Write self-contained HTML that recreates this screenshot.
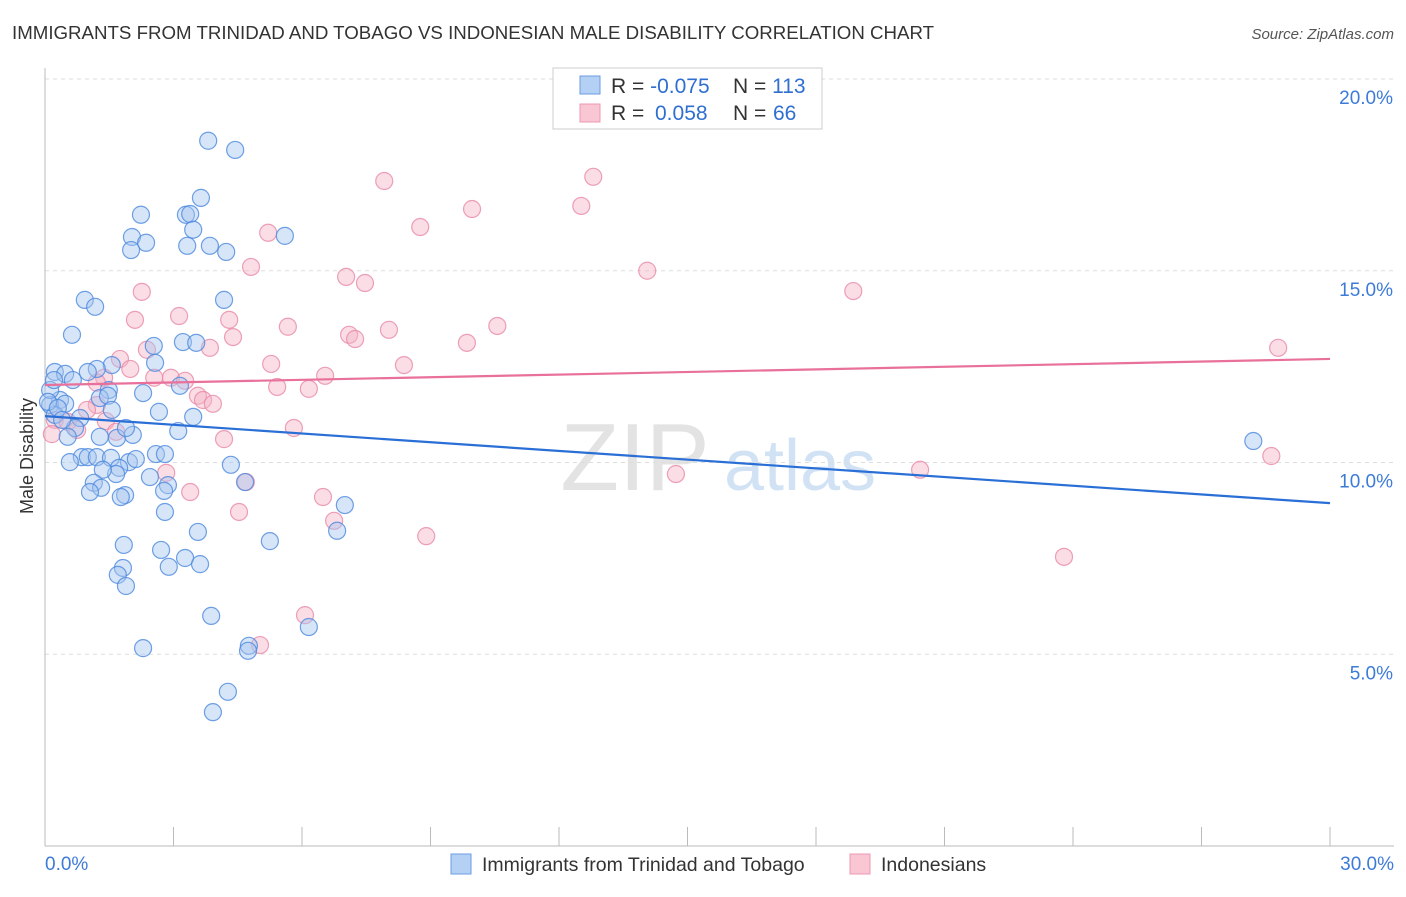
<!DOCTYPE html>
<html><head><meta charset="utf-8"><style>
body{margin:0;background:#fff;font-family:"Liberation Sans",sans-serif}
svg text{font-family:"Liberation Sans",sans-serif}
</style></head><body>
<svg id="chart" width="1406" height="892" xmlns="http://www.w3.org/2000/svg">
<text x="12" y="39" font-size="18.7" fill="#333">IMMIGRANTS FROM TRINIDAD AND TOBAGO VS INDONESIAN MALE DISABILITY CORRELATION CHART</text>
<text x="1394" y="39" font-size="15" fill="#555" font-style="italic" text-anchor="end">Source: ZipAtlas.com</text>
<text x="33" y="456" font-size="18" fill="#333" text-anchor="middle" transform="rotate(-90 33 456)">Male Disability</text>
<g><text x="635" y="490" font-size="96" fill="#ddd" font-family="Liberation Serif" text-anchor="middle" opacity="0.8">ZIP</text><text x="800" y="490" font-size="72" fill="#c8dcf3" text-anchor="middle" opacity="0.8">atlas</text></g>
<g id="grid"></g><g id="axes"></g><g id="pts"></g><g id="trends"></g>
<g>
<rect x="553" y="68" width="269" height="61" fill="#fff" stroke="#ccc"/>
<rect x="580" y="76" width="20" height="18" fill="#b5d0f5" stroke="#6a9be0"/>
<rect x="580" y="104" width="20" height="18" fill="#f9c6d4" stroke="#eb98b2"/>
<text x="611" y="93" font-size="21" fill="#333">R = <tspan fill="#2f6fd1">-0.075</tspan><tspan x="733">N = </tspan><tspan fill="#2f6fd1">113</tspan></text>
<text x="611" y="120" font-size="21" fill="#333">R = <tspan fill="#2f6fd1" x="655">0.058</tspan><tspan x="733">N = </tspan><tspan fill="#2f6fd1" x="773">66</tspan></text>
</g>
<g>
<rect x="451" y="854" width="20" height="20" fill="#b5d0f5" stroke="#6a9be0"/>
<text x="482" y="871" font-size="19.5" fill="#333">Immigrants from Trinidad and Tobago</text>
<rect x="850" y="854" width="20" height="20" fill="#f9c6d4" stroke="#eb98b2"/>
<text x="881" y="871" font-size="19.5" fill="#333">Indonesians</text>
</g>
</svg>
<script>
const blueX=[3.81,4.44,3.64,2.24,3.29,3.39,3.46,5.60,2.03,2.36,2.01,3.32,3.85,4.23,0.93,1.17,4.18,0.63,2.54,3.22,3.53,1.56,1.21,1.00,0.23,0.47,0.65,2.57,3.15,2.29,1.49,0.35,0.12,0.47,1.28,1.47,1.56,2.66,3.46,0.82,0.23,0.70,0.53,1.28,1.68,2.05,1.89,3.11,0.86,1.00,1.21,0.58,1.54,2.59,2.80,1.96,2.12,1.73,1.66,1.35,4.34,2.45,2.87,1.14,1.31,1.05,1.87,1.77,2.78,4.67,7.00,2.80,3.57,6.82,5.25,1.84,2.71,3.27,3.62,2.89,1.82,1.70,1.89,3.88,6.16,4.76,4.74,2.29,4.27,3.92,28.21,0.12,0.07,0.30,0.21,0.40];
const blueY=[18.39,18.15,16.90,16.46,16.46,16.48,16.07,15.91,15.88,15.73,15.54,15.65,15.65,15.49,14.24,14.06,14.24,13.33,13.04,13.14,13.12,12.54,12.44,12.36,12.36,12.31,12.15,12.60,12.00,11.81,11.89,11.63,11.50,11.53,11.68,11.74,11.37,11.32,11.19,11.16,11.24,10.90,10.67,10.67,10.64,10.72,10.90,10.82,10.14,10.14,10.14,10.01,10.12,10.22,10.22,10.01,10.09,9.86,9.70,9.81,9.94,9.62,9.41,9.47,9.34,9.23,9.15,9.10,9.26,9.49,8.89,8.71,8.19,8.22,7.95,7.85,7.72,7.51,7.35,7.28,7.25,7.07,6.78,6.00,5.71,5.22,5.09,5.16,4.02,3.49,10.56,11.89,11.58,11.42,12.15,11.11];
const pinkX=[12.80,7.92,12.52,9.97,8.76,5.21,4.81,14.06,7.03,7.47,18.87,2.26,2.10,3.13,4.30,5.67,10.56,8.03,7.10,7.24,4.39,9.85,28.79,3.85,2.38,1.75,5.28,8.38,1.99,1.38,2.55,2.94,3.27,6.54,5.42,6.16,1.21,3.57,3.69,3.92,1.21,0.98,0.23,0.53,1.42,0.75,5.81,0.16,4.18,14.73,20.43,28.63,2.83,4.69,3.39,6.49,4.53,6.75,8.90,23.79,6.07,5.02,1.66];
const pinkY=[17.45,17.34,16.69,16.61,16.14,15.99,15.10,15.00,14.84,14.68,14.47,14.45,13.72,13.82,13.72,13.54,13.56,13.46,13.33,13.22,13.27,13.12,12.99,12.99,12.94,12.70,12.57,12.54,12.44,12.21,12.21,12.21,12.13,12.26,11.97,11.92,12.08,11.74,11.63,11.53,11.50,11.37,11.11,11.06,11.08,10.85,10.90,10.74,10.61,9.70,9.81,10.17,9.73,9.49,9.23,9.10,8.71,8.48,8.08,7.54,6.02,5.24,10.80];
const trendBlue=[11.21,8.94];
const trendPink=[12.02,12.70];
const yTicks=[5,10,15,20];
const xTicks=[0,3,6,9,12,15,18,21,24,27,30];
const xLabels=["0.0%","30.0%"];
const NS="http://www.w3.org/2000/svg";
const X=v=>45+v/30*1285, Y=v=>846-v*38.35;
function mk(t,a,p){const e=document.createElementNS(NS,t);for(const k in a)e.setAttribute(k,a[k]);p.appendChild(e);return e;}
const grid=document.getElementById('grid'),axes=document.getElementById('axes'),pts=document.getElementById('pts'),tr=document.getElementById('trends');
yTicks.forEach(v=>{
 const l=mk('line',{x1:45,x2:1394,y1:Y(v),y2:Y(v),stroke:'#ddd','stroke-dasharray':'4 4'},grid);
 
 
 const t=mk('text',{x:1393,y:Y(v)+25,'font-size':19,fill:'#3d7bd8','text-anchor':'end'},axes);t.textContent=v.toFixed(1)+'%';
 
 
});
const ax=mk('line',{x1:45,x2:45,y1:68,y2:846,stroke:'#bbb'},axes);


const bx=mk('line',{x1:45,x2:1394,y1:846,y2:846,stroke:'#bbb'},axes);


xTicks.forEach(v=>{const l=mk('line',{x1:X(v),x2:X(v),y1:827,y2:846,stroke:'#bbb'},axes);
 
 });
[[0,xLabels[0],'start',45],[30,xLabels[1],'end',1394]].forEach(d=>{const t=mk('text',{x:d[3],y:870,'font-size':19,fill:'#3d7bd8','text-anchor':d[2]},axes);t.textContent=d[1];
 
 });
function dots(xs,ys,fill,stroke,name){xs.forEach((v,i)=>{const c=mk('circle',{cx:X(v),cy:Y(ys[i]),r:8.5,fill:fill,'fill-opacity':0.45,stroke:stroke,'stroke-opacity':0.8,'stroke-width':1.2},pts);
 
 });}
dots(pinkX,pinkY,'#f5b3c6','#e98aa8','point-indonesians');
dots(blueX,blueY,'#a7c6f0','#4b88de','point-trinidad');
const tb=mk('line',{x1:X(0),y1:Y(trendBlue[0]),x2:X(30),y2:Y(trendBlue[1]),stroke:'#2a6fd6','stroke-width':2.2},tr);


const tp=mk('line',{x1:X(0),y1:Y(trendPink[0]),x2:X(30),y2:Y(trendPink[1]),stroke:'#e8709a','stroke-width':2.2},tr);


</script>
</body></html>
